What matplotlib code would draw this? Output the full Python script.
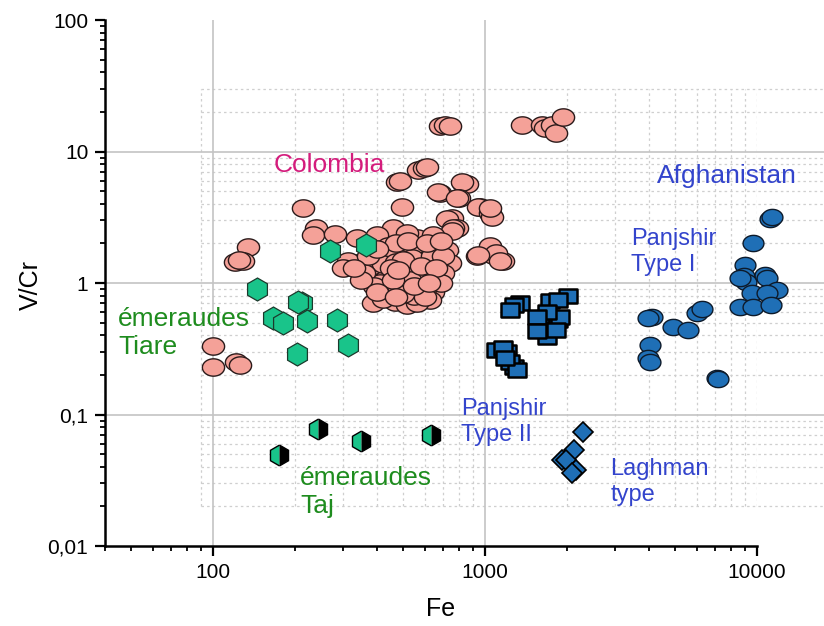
import numpy as np
import matplotlib
matplotlib.use("Agg")
import matplotlib.pyplot as plt
from matplotlib.path import Path
from matplotlib.ticker import FixedLocator, NullFormatter, LogLocator

plt.rcParams['font.family'] = ['Liberation Sans', 'DejaVu Sans']

# Colombia
col_fe = [134, 120, 129, 124, 100, 100, 121, 126,
          683, 713, 743, 1368, 1620, 1660, 1765, 1820, 1940,
          565, 597, 610, 475, 487, 830, 860, 820, 683, 671, 800, 790, 495, 214, 960, 940, 1042, 1060, 1042, 757, 725,
          790, 763, 757, 239, 233, 281, 338, 459, 401, 562, 644, 516, 440, 587, 495, 725, 933, 1070, 1165, 1042, 1100,
          1136, 940, 333, 313, 347, 436, 665, 743, 592, 543,
          459, 401, 368, 577, 508, 428, 644, 387, 467, 516, 628, 560,
          380, 420, 470, 520, 560, 610, 650, 700, 620, 540, 500, 450, 410, 440, 480, 530, 600, 690, 360, 390,
          420, 550, 600, 500, 460, 640, 700, 480, 580, 660, 350, 400, 470, 550, 620, 370, 470, 520, 610, 690,
          400, 300, 330]
col_vcr = [1.87, 1.44, 1.46, 1.5, 0.33, 0.23, 0.25, 0.24,
           15.6, 15.8, 15.6, 15.9, 15.9, 15.1, 15.9, 13.9, 18.3,
           7.2, 7.5, 7.6, 5.9, 6.0, 5.8, 5.7, 5.9, 4.8, 4.9, 4.4, 4.4, 3.8, 3.7, 3.8, 3.8, 3.4, 3.2, 3.7, 3.1, 3.05,
           2.6, 2.6, 2.5, 2.6, 2.3, 2.35, 2.2, 2.6, 2.3, 2.2, 2.3, 2.4, 1.9, 1.7, 1.78, 1.78, 1.6, 1.63, 1.47, 1.9, 1.7,
           1.47, 1.63, 1.43, 1.46, 1.26, 1.63, 1.47, 1.43, 1.57, 1.9,
           1.13, 1.16, 1.1, 1.02, 0.92, 0.89, 0.86, 0.71, 0.72, 0.68, 0.74, 0.71,
           1.35, 1.4, 1.45, 1.3, 1.2, 1.25, 1.1, 1.2, 1.45, 1.55, 1.5, 1.3, 1.0, 0.8, 0.95, 1.05, 0.9, 1.0, 1.2, 0.95,
           0.75, 0.8, 0.78, 0.82, 1.05, 1.6, 1.6, 1.25, 1.35, 1.3, 1.05, 0.85, 0.78, 0.95, 1.0, 1.6, 2.0, 2.1, 2.0, 2.1,
           1.8, 1.3, 1.3]

# emeraudes Tiare
tiare_fe = [145, 212, 205, 166, 180, 222, 286, 313, 204, 269, 365]
tiare_vcr = [0.9, 0.70, 0.72, 0.54, 0.50, 0.51, 0.52, 0.338, 0.29, 1.75, 1.95]

# emeraudes Taj
taj_fe = [175, 243, 350, 632]
taj_vcr = [0.049, 0.077, 0.063, 0.070]

# Afghanistan - Panjshir Type I
p1_fe = [11140, 11400, 9660, 9040, 8990, 9100, 10700, 10900, 11860, 9600, 10900, 8650, 9660, 11300, 8650,
         4110, 3980, 4910, 5570, 6010, 6290, 4040, 3980, 4040, 7130, 7200]
p1_vcr = [3.07, 3.15, 2.0, 1.37, 1.13, 1.02, 1.15, 1.1, 0.885, 0.84, 0.84, 0.66, 0.66, 0.68, 1.1,
          0.55, 0.54, 0.46, 0.44, 0.59, 0.64, 0.34, 0.27, 0.25, 0.19, 0.185]

# Panjshir Type II
p2_fe = [1345, 1280, 1236, 1734, 2020, 1850, 1593, 1640, 1690, 1850, 1887, 1690, 1550, 1820, 1550,
         1205, 1100, 1160, 1280, 1236, 1310, 1180]
p2_vcr = [0.71, 0.68, 0.62, 0.73, 0.8, 0.74, 0.48, 0.44, 0.39, 0.52, 0.55, 0.6, 0.55, 0.44, 0.43,
          0.30, 0.31, 0.32, 0.23, 0.25, 0.218, 0.27]

# Laghman type
lag_fe = [2300, 2120, 1910, 1990, 2160, 2080]
lag_vcr = [0.073, 0.054, 0.045, 0.045, 0.038, 0.036]

t = np.linspace(0, 2 * np.pi, 60)
ellipse = Path(np.column_stack([np.cos(t), 0.78 * np.sin(t)]), closed=True)
rect = Path([(-1, -0.75), (1, -0.75), (1, 0.75), (-1, 0.75), (-1, -0.75)], closed=True)

fig = plt.figure(figsize=(8.24, 6.26), dpi=100)
ax = fig.add_axes([0.1274, 0.1278, 0.7913, 0.8402])
ax.set_xscale('log')
ax.set_yscale('log')
ax.set_xlim(40, 10000)
ax.set_ylim(0.01, 100)

# grid
mg = '#cfcfcf'
minor_x = [90] + [v * 100 for v in range(2, 10)] + [v * 1000 for v in range(2, 11)]
minor_y = [v / 100 for v in range(2, 10)] + [v / 10 for v in range(2, 10)] + list(range(2, 10)) + [20, 30]
ax.vlines(minor_x, 0.02, 30, colors=mg, linestyles=(0, (2, 2.5)), linewidth=0.9, zorder=0)
ax.hlines(minor_y, 90, 20000, colors=mg, linestyles=(0, (2, 2.5)), linewidth=0.9, zorder=0, clip_on=False)
ax.vlines([100, 1000], 0.01, 100, colors='#c4c4c4', linewidth=1.2, zorder=0)
ax.hlines([10, 1, 0.1], 40, 20000, colors='#c4c4c4', linewidth=1.2, zorder=0, clip_on=False)

ax.plot(col_fe, col_vcr, linestyle='none', marker=ellipse, markersize=16, markerfacecolor='#F4A198',
        markeredgecolor='#2a1a1a', markeredgewidth=1.0, clip_on=False, zorder=3)
ax.plot(tiare_fe, tiare_vcr, linestyle='none', marker='h', markersize=16.5, markerfacecolor='#19C48A',
        markeredgecolor='#1c3a2c', markeredgewidth=0.9, clip_on=False, zorder=4)
ax.plot(taj_fe, taj_vcr, linestyle='none', marker='h', markersize=15, fillstyle='left',
        markerfacecolor='#19C48A', markerfacecoloralt='black', markeredgecolor='black',
        markeredgewidth=1.0, clip_on=False, zorder=4)
ax.plot(p1_fe, p1_vcr, linestyle='none', marker=ellipse, markersize=15, markerfacecolor='#1F6FB6',
        markeredgecolor='#0d1a2a', markeredgewidth=1.0, clip_on=False, zorder=3)
ax.plot(p2_fe, p2_vcr, linestyle='none', marker=rect, markersize=13.5, markerfacecolor='#1F6FB6',
        markeredgecolor='black', markeredgewidth=1.8, clip_on=False, zorder=3)
ax.plot(lag_fe, lag_vcr, linestyle='none', marker='D', markersize=10, markerfacecolor='#1F6FB6',
        markeredgecolor='black', markeredgewidth=1.2, clip_on=False, zorder=3)

# annotations
ax.text(0.258, 0.724, 'Colombia', transform=ax.transAxes, color='#D41C7C', fontsize=19, va='center')
ax.text(0.847, 0.703, 'Afghanistan', transform=ax.transAxes, color='#3344CC', fontsize=19, va='center')
ax.text(0.807, 0.559, 'Panjshir\nType I', transform=ax.transAxes, color='#3344CC', fontsize=17, va='center')
ax.text(0.020, 0.405, 'émeraudes\nTiare', transform=ax.transAxes, color='#1E8C1E', fontsize=19, va='center')
ax.text(0.546, 0.236, 'Panjshir\nType II', transform=ax.transAxes, color='#3344CC', fontsize=17, va='center')
ax.text(0.299, 0.103, 'émeraudes\nTaj', transform=ax.transAxes, color='#1E8C1E', fontsize=19, va='center')
ax.text(0.775, 0.122, 'Laghman\ntype', transform=ax.transAxes, color='#3344CC', fontsize=17, va='center')

# axes styling
for s in ['top', 'right']:
    ax.spines[s].set_visible(False)
for s in ['left', 'bottom']:
    ax.spines[s].set_linewidth(1.8)

ax.xaxis.set_major_locator(FixedLocator([100, 1000, 10000]))
ax.set_xticklabels(['100', '1000', '10000'])
ax.xaxis.set_minor_locator(LogLocator(base=10, subs=np.arange(2, 10)))
ax.xaxis.set_minor_formatter(NullFormatter())
ax.yaxis.set_major_locator(FixedLocator([0.01, 0.1, 1, 10, 100]))
ax.set_yticklabels(['0,01', '0,1', '1', '10', '100'])
ax.yaxis.set_minor_locator(LogLocator(base=10, subs=np.arange(2, 10)))
ax.yaxis.set_minor_formatter(NullFormatter())
ax.tick_params(which='major', direction='out', length=7, width=1.6, labelsize=15, pad=5)
ax.tick_params(which='minor', direction='out', length=3.8, width=1.3)

ax.set_xlabel('Fe', fontsize=18)
ax.set_ylabel('V/Cr', fontsize=18)
ax.xaxis.set_label_coords(0.514, -0.097)
ax.yaxis.set_label_coords(-0.095, 0.496)

fig.savefig('out.png', dpi=100)
